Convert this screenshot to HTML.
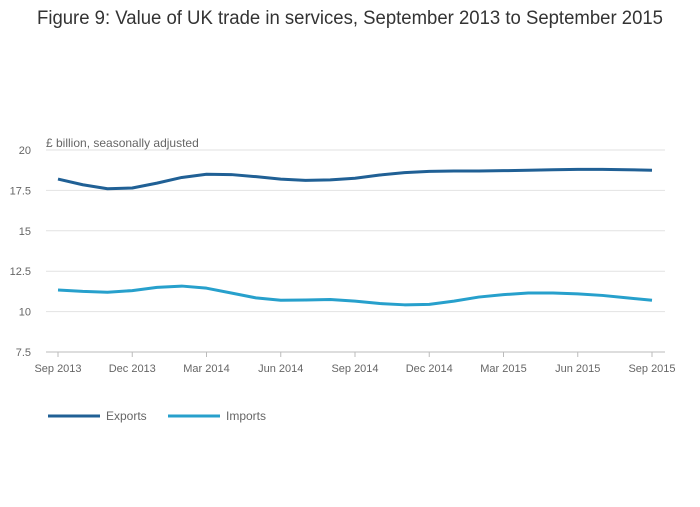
<!DOCTYPE html>
<html><head><meta charset="utf-8"><style>
body{margin:0;background:#fff;font-family:"Liberation Sans",sans-serif;}
svg text{font-family:"Liberation Sans",sans-serif;}
</style></head><body>
<svg id="chart" width="700" height="502">
<text x="37" y="24" font-size="19" fill="#333" textLength="626" lengthAdjust="spacingAndGlyphs">Figure 9: Value of UK trade in services, September 2013 to September 2015</text>
<text x="46" y="147" font-size="12" fill="#666">£ billion, seasonally adjusted</text>
<g id="grid"></g><g id="xaxis"></g><g id="series"></g>
<g>
<line x1="48" y1="416" x2="100" y2="416" stroke="#206095" stroke-width="3"/>
<text x="106" y="420" font-size="12" fill="#666">Exports</text>
<line x1="168" y1="416" x2="220" y2="416" stroke="#27a0cc" stroke-width="3"/>
<text x="226" y="420" font-size="12" fill="#666">Imports</text>
</g>
</svg>
<script>
const months = 25;
const xTickLabels = ["Sep 2013","Dec 2013","Mar 2014","Jun 2014","Sep 2014","Dec 2014","Mar 2015","Jun 2015","Sep 2015"];
const yTicks = [7.5,10,12.5,15,17.5,20];
const exportsData = [18.2,17.85,17.6,17.65,17.95,18.3,18.5,18.48,18.35,18.2,18.12,18.15,18.25,18.45,18.6,18.68,18.7,18.7,18.72,18.75,18.78,18.8,18.8,18.78,18.75];
const importsData = [11.34,11.25,11.2,11.3,11.5,11.58,11.45,11.15,10.85,10.7,10.72,10.75,10.65,10.5,10.42,10.45,10.65,10.9,11.05,11.15,11.15,11.1,11.0,10.85,10.7];
const NS="http://www.w3.org/2000/svg";
const x0=58,x1=652,yTop=150,yBot=352,yMin=7.5,yMax=20;
const xs=i=>x0+(x1-x0)*i/(months-1);
const ys=v=>yBot-(v-yMin)/(yMax-yMin)*(yBot-yTop);
const grid=document.getElementById('grid'),xa=document.getElementById('xaxis'),ser=document.getElementById('series');
yTicks.forEach(t=>{
 const l=document.createElementNS(NS,'line');
 l.setAttribute('x1',46);l.setAttribute('x2',665);l.setAttribute('y1',ys(t));l.setAttribute('y2',ys(t));
 l.setAttribute('stroke',t===yMin?'#bbb':'#e2e2e2');
 
 
 grid.appendChild(l);
 const tx=document.createElementNS(NS,'text');
 tx.setAttribute('x',31);tx.setAttribute('y',ys(t)+4);tx.setAttribute('text-anchor','end');tx.setAttribute('font-size','11');tx.setAttribute('fill','#666');
 tx.textContent=t;
 
 
 grid.appendChild(tx);
});
xTickLabels.forEach((lab,k)=>{
 const x=xs(k*3);
 const l=document.createElementNS(NS,'line');
 l.setAttribute('x1',x);l.setAttribute('x2',x);l.setAttribute('y1',yBot);l.setAttribute('y2',yBot+5);l.setAttribute('stroke','#bbb');
 
 
 xa.appendChild(l);
 const tx=document.createElementNS(NS,'text');
 tx.setAttribute('x',x);tx.setAttribute('y',372);tx.setAttribute('text-anchor','middle');tx.setAttribute('font-size','11');tx.setAttribute('fill','#666');
 tx.textContent=lab;
 
 
 xa.appendChild(tx);
});
function drawLine(data,color,name){
 const p=document.createElementNS(NS,'polyline');
 p.setAttribute('points',data.map((v,i)=>xs(i)+','+ys(v)).join(' '));
 p.setAttribute('fill','none');p.setAttribute('stroke',color);p.setAttribute('stroke-width','3');p.setAttribute('stroke-linejoin','round');
 
 
 ser.appendChild(p);
}
drawLine(exportsData,'#206095','exports-line');
drawLine(importsData,'#27a0cc','imports-line');
</script>
</body></html>
